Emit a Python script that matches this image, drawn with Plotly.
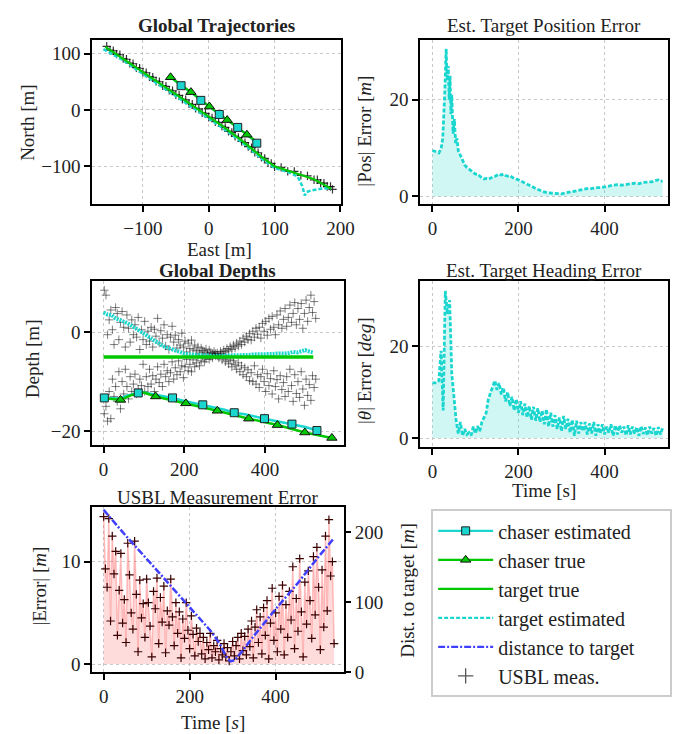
import plotly.graph_objects as go

# ---------------- data ----------------
# Global trajectories (East, North)
tgt_true_E = [-157, -130, -100, -70, -40, -10, 0, 20, 50, 80, 100, 130, 160, 186]
tgt_true_N = [112, 91, 68, 44, 20, -4, -12, -28, -54, -83, -100, -111, -123, -140]
tgt_est_E = [-160, -130, -100, -70, -40, -10, 0, 20, 50, 80, 100, 120, 135, 142, 146, 148, 155, 165, 175, 186]
tgt_est_N = [108, 88, 64, 40, 16, -8, -15, -31, -57, -86, -103, -110, -118, -135, -152, -146, -143, -141, -139, -140]
usbl_E = [-155, -150, -145, -140, -135, -130, -125, -120, -115, -110, -105, -100, -95, -90, -85, -80, -75, -70,
          -65, -60, -55, -50, -45, -40, -35, -30, -25, -20, -15, -10, -5, 0, 5, 10, 15, 20, 25, 30, 35, 40, 45,
          50, 55, 60, 65, 70, 75, 80, 85, 90, 95, 100, 110, 120, 130, 140, 150, 160, 165, 170, 175, 180, 185, 188]
usbl_N = [113, 106, 105, 99, 98, 91, 90, 83, 82, 75, 74, 67, 66, 59, 58, 51, 50, 43, 42, 35, 34, 27, 26, 19,
          18, 11, 10, 3, 2, -5, -6, -13, -14, -21, -22, -29, -31, -38, -40, -47, -49, -56, -58, -65, -67, -75,
          -76, -84, -86, -94, -95, -101, -102, -109, -109, -116, -117, -124, -124, -130, -130, -136, -136, -141]
ch_est_E = [-58, -42, -27, -12, 1, 16, 28, 44, 58, 73]
ch_est_N = [58, 43, 31, 17, 6, -8, -18, -31, -44, -59]
ch_est_mk_E = [-42, -12, 16, 44, 73]
ch_est_mk_N = [43, 17, -8, -31, -59]
ch_true_E = [-58, -27, 1, 28, 58, 75]
ch_true_N = [58, 31.6, 6, -18, -44, -58]
ch_true_mk_E = [-58, -27, 1, 28, 58]
ch_true_mk_N = [58, 31.6, 6, -18, -44]

# Target position error
pos_t = [0, 5, 10, 15, 20, 24, 27, 29, 31, 32, 33, 35, 37, 39, 41, 43, 45, 48, 51, 54, 57, 60, 65, 70, 75, 80,
         85, 90, 95, 100, 105, 110, 115, 120, 125, 130, 135, 140, 145, 150, 155, 160, 165, 170, 175, 180, 185,
         190, 200, 210, 220, 230, 240, 250, 260, 270, 280, 290, 300, 310, 320, 330, 340, 350, 360, 370, 380,
         390, 400, 410, 420, 430, 440, 450, 460, 470, 480, 490, 500, 510, 520, 525, 530, 535]
pos_err = [9.5, 9.4, 9.2, 9.0, 9.8, 12, 17, 22, 28, 30.6, 27, 24, 27, 20, 25, 17, 21, 13, 16, 11, 12, 9.5, 8.5,
           7.5, 6.5, 6.0, 5.6, 5.2, 5.0, 4.6, 4.6, 4.1, 3.8, 3.6, 3.7, 3.5, 3.8, 4.0, 4.1, 4.4, 4.6, 4.4, 4.6,
           4.3, 4.2, 4.3, 3.9, 3.7, 3.4, 3.0, 2.6, 2.1, 1.6, 1.2, 0.9, 0.7, 0.6, 0.6, 0.5, 0.7, 0.9, 1.0, 1.3,
           1.5, 1.6, 1.6, 1.8, 1.8, 1.9, 2.1, 2.3, 2.4, 2.3, 2.5, 2.6, 2.7, 2.6, 2.9, 3.0, 3.0, 3.3, 3.4, 3.1, 3.2]

# Target heading error (5 s steps)
hdg_t = [0, 5, 10, 15, 20, 25, 30, 35, 40, 45, 50, 55, 60, 65, 70, 75, 80, 85, 90, 95, 100, 105, 110, 115, 120,
         125, 130, 135, 140, 145, 150, 155, 160, 165, 170, 175, 180, 185, 190, 195, 200, 205, 210, 215, 220, 225,
         230, 235, 240, 245, 250, 255, 260, 265, 270, 275, 280, 285, 290, 295, 300, 305, 310, 315, 320, 325, 330,
         335, 340, 345, 350, 355, 360, 365, 370, 375, 380, 385, 390, 395, 400, 405, 410, 415, 420, 425, 430, 435,
         440, 445, 450, 455, 460, 465, 470, 475, 480, 485, 490, 495, 500, 505, 510, 515, 520, 525, 530, 535]
hdg_err = [12.0, 12.0, 12.0, 12.5, 19, 6, 32, 27, 30, 14, 9, 4, 1, 3.5, 0.5, 2, 0.8, 1.2, 0.6, 2.5, 1.0, 2.6, 1.5,
           3.5, 4.5, 5.5, 8.5, 10, 11, 12.5, 10.5, 12, 9.5, 11, 8, 10, 7, 9, 6, 8.5, 5.5, 8, 5, 7.5, 4.5, 7, 4,
           6.8, 3.8, 6.5, 3.5, 6, 3, 6.3, 2.5, 5.5, 2.5, 5, 2, 4.5, 1.5, 4.8, 2, 4.2, 1.2, 4, 0.5, 3.8, 1, 3.5,
           1.5, 3.5, 0.8, 3.2, 1, 3.5, 0.5, 3, 1, 3, 0.8, 2.5, 1.2, 3, 0.5, 2.8, 0.8, 2.8, 1.2, 2.5, 0.6, 2.8,
           0.8, 2.5, 1, 2.4, 0.5, 2.6, 0.9, 2.3, 0.6, 2.5, 1, 2.2, 0.5, 2.4, 0.8, 2.2]

# Global depths
tgt_est_dt = [0, 10, 20, 30, 40, 50, 60, 70, 80, 90, 100, 110, 120, 130, 140, 150, 160, 170, 180, 190, 200, 210,
              220, 230, 240, 250, 260, 270, 280, 290, 300, 310, 320, 330, 340, 350, 360, 370, 380, 390, 400, 410,
              420, 430, 440, 450, 460, 470, 480, 490, 500, 510, 520]
tgt_est_d = [4.0, 3.6, 3.5, 2.8, 2.5, 2.2, 1.8, 1.3, 0.8, 0.4, -0.2, -0.8, -1.4, -2.0, -2.4, -2.9, -3.2, -3.6,
             -3.9, -4.1, -4.3, -4.5, -4.5, -4.6, -4.7, -4.7, -4.7, -4.8, -4.8, -4.7, -4.8, -4.7, -4.8, -4.6, -4.7,
             -4.6, -4.6, -4.5, -4.5, -4.6, -4.4, -4.5, -4.4, -4.3, -4.4, -4.3, -4.2, -4.0, -4.1, -3.8, -3.6, -3.9, -4.1]
tgt_true_dt = [0, 520]
tgt_true_d = [-5.0, -5.0]
ch_est_dt = [0, 40, 60, 86, 100, 150, 171, 200, 246, 300, 324, 350, 399, 450, 467, 500, 529]
ch_est_d = [-13.3, -13.4, -12.8, -12.3, -12.2, -12.9, -13.3, -13.9, -14.7, -15.7, -16.3, -16.6, -17.5, -18.3,
            -18.6, -19.2, -19.9]
ch_est_mk_t = [2, 86, 171, 246, 324, 399, 467, 529]
ch_est_mk_d = [-13.3, -12.3, -13.3, -14.7, -16.3, -17.5, -18.6, -19.9]
ch_true_dt = [0, 42, 70, 100, 129, 204, 282, 360, 431, 499, 566]
ch_true_d = [-13.3, -13.7, -12.7, -12.2, -13.0, -14.4, -15.9, -17.5, -18.8, -20.3, -21.4]
ch_true_mk_t = [42, 129, 204, 282, 360, 431, 499, 566]
ch_true_mk_d = [-13.7, -13.0, -14.4, -15.9, -17.5, -18.8, -20.3, -21.4]

usbl_dt = [2, 6, 10, 14, 18, 22, 26, 30, 34, 38, 42, 46, 50, 54, 58, 62, 66, 70, 74, 78, 82, 86, 90, 94, 98, 102,
           106, 110, 114, 118, 122, 126, 130, 134, 138, 142, 146, 150, 154, 158, 162, 166, 170, 174, 178, 182, 186,
           190, 194, 198, 202, 206, 210, 214, 218, 222, 226, 230, 234, 238, 242, 246, 250, 254, 258, 262, 266, 270,
           274, 278,
           2, 6, 10, 14, 18, 22, 26, 30, 34, 38, 42, 46, 50, 54, 58, 62, 66, 70, 74, 78, 82, 86, 90, 94, 98, 102,
           106, 110, 114, 118, 122, 126, 130, 134, 138, 142, 146, 150, 154, 158, 162, 166, 170, 174, 178, 182, 186,
           190, 194, 198, 202, 206, 210, 214, 218, 222, 226, 230, 234, 238, 242, 246, 250, 254, 258, 262, 266, 270,
           274, 278,
           282, 286, 290, 294, 298, 302, 306, 310, 314, 318, 322, 326, 330, 334, 338, 342, 346, 350, 354, 358, 362,
           366, 370, 374, 378, 382, 386, 390, 394, 398, 402, 406, 410, 414, 418, 422, 426, 430, 434, 438, 442, 446,
           450, 454, 458, 462, 466, 470, 474, 478, 482, 486, 490, 494, 498, 502, 506, 510, 514, 518, 522, 526,
           282, 286, 290, 294, 298, 302, 306, 310, 314, 318, 322, 326, 330, 334, 338, 342, 346, 350, 354, 358, 362,
           366, 370, 374, 378, 382, 386, 390, 394, 398, 402, 406, 410, 414, 418, 422, 426, 430, 434, 438, 442, 446,
           450, 454, 458, 462, 466, 470, 474, 478, 482, 486, 490, 494, 498, 502, 506, 510, 514, 518, 522, 526]
usbl_d = [8.5, 7.5, -0.5, 2.5, 4.5, 0.5, -2.5, 5.0, 3.8, -1.5, 2.0, 4.2, 1.0, -3.0, 3.5, 0.8, -2.0, 2.5, -0.5, 1.5,
          -1.0, 3.0, -3.5, 0.5, -1.5, 2.2, -2.5, 0.2, -1.8, 1.0, -3.0, 0.6, -0.8, 2.8, -2.2, 0.3, -1.2, 1.5, -2.8,
          -0.5, -3.5, -1.0, 1.2, -2.0, -0.6, -3.2, -1.5, -2.6, -0.2, -3.0, -1.8, -4.0, -2.2, -3.3, -1.6, -3.6, -2.6,
          -3.8, -3.0, -4.2, -3.2, -3.7, -4.0, -3.4, -4.3, -3.6, -4.1, -4.4, -3.9, -4.3,
          -16.5, -15.0, -18.0, -12.0, -17.5, -9.5, -13.0, -11.0, -14.0, -8.0, -15.5, -10.0, -12.5, -7.5, -11.0,
          -13.5, -9.0, -12.0, -10.5, -8.5, -12.5, -11.5, -9.5, -10.8, -6.5, -12.0, -9.0, -11.0, -7.5, -10.5, -8.8,
          -12.0, -9.5, -7.0, -10.2, -8.5, -11.0, -6.5, -9.0, -7.8, -10.0, -8.2, -6.0, -9.5, -7.2, -8.6, -5.8, -8.0,
          -6.8, -9.2, -7.0, -5.5, -7.8, -6.5, -8.0, -5.6, -7.0, -6.2, -5.0, -6.8, -5.8, -4.8, -6.0, -5.4, -4.6,
          -5.5, -4.9, -5.2, -4.5, -4.8,
          -4.2, -4.6, -3.9, -4.3, -3.6, -4.0, -3.3, -3.8, -2.9, -3.5, -2.6, -3.2, -2.2, -2.8, -1.8, -2.5, -1.2,
          -2.0, -0.8, -1.5, -0.3, -1.6, 0.2, -1.0, 0.8, -0.4, 1.0, -1.2, 1.8, 0.2, 2.2, -0.6, 2.8, 0.6, 3.2, 1.0,
          -0.5, 3.5, 1.5, 4.3, 0.8, 2.6, 4.8, 1.2, 3.0, 5.5, 2.0, 3.8, 6.0, 1.5, 4.8, 2.6, 5.8, 0.8, 3.8, 6.5, 2.2,
          5.0, 7.5, 4.0, 6.2, 2.8,
          -4.8, -5.2, -4.6, -5.6, -5.0, -6.0, -5.2, -6.4, -5.6, -7.0, -5.8, -6.6, -7.5, -6.2, -8.0, -6.8, -8.6,
          -7.2, -9.0, -7.6, -9.8, -8.2, -10.0, -6.8, -10.5, -8.6, -11.2, -9.0, -7.5, -10.0, -12.0, -8.4, -10.8,
          -9.4, -12.5, -7.8, -11.0, -9.6, -13.5, -8.8, -11.6, -10.2, -13.0, -9.0, -12.0, -7.5, -10.8, -14.0, -8.6,
          -12.4, -10.0, -13.2, -8.0, -11.5, -14.8, -9.5, -12.8, -10.6, -13.8, -8.8, -11.2, -9.5]

# USBL measurement error (4 s steps)
err_t = [0, 4, 8, 12, 16, 20, 24, 28, 32, 36, 40, 44, 48, 52, 56, 60, 64, 68, 72, 76, 80, 84, 88, 92, 96, 100,
         104, 108, 112, 116, 120, 124, 128, 132, 136, 140, 144, 148, 152, 156, 160, 164, 168, 172, 176, 180, 184,
         188, 192, 196, 200, 204, 208, 212, 216, 220, 224, 228, 232, 236, 240, 244, 248, 252, 256, 260, 264, 268,
         272, 276, 280, 284, 288, 292, 296, 300, 304, 308, 312, 316, 320, 324, 328, 332, 336, 340, 344, 348, 352,
         356, 360, 364, 368, 372, 376, 380, 384, 388, 392, 396, 400, 404, 408, 412, 416, 420, 424, 428, 432, 436,
         440, 444, 448, 452, 456, 460, 464, 468, 472, 476, 480, 484, 488, 492, 496, 500, 504, 508, 512, 516, 520,
         524, 528, 532, 536]
err_v = [14.4, 9.3, 7.5, 14.2, 4.2, 12.5, 8.8, 11.0, 2.8, 7.2, 10.8, 4.0, 6.3, 2.1, 11.8, 8.7, 5.0, 3.4, 12.0,
         6.8, 1.2, 8.2, 4.5, 5.9, 2.6, 8.3, 6.0, 3.7, 0.7, 7.1, 5.4, 8.4, 2.0, 6.5, 4.1, 7.6, 1.1, 5.2, 3.8, 8.3,
         4.6, 1.8, 6.0, 3.0, 5.1, 0.6, 4.4, 2.5, 6.0, 3.3, 1.5, 4.7, 2.9, 0.8, 3.5, 2.2, 3.0, 1.0, 2.6, 0.5, 2.1,
         1.4, 3.0, 0.6, 1.8, 1.2, 2.3, 0.4, 1.5, 0.9, 2.0, 0.7, 1.6, 0.3, 1.2, 2.2, 0.8, 1.8, 2.6, 0.5, 3.0, 1.3,
         2.7, 0.9, 3.4, 1.7, 4.2, 0.6, 3.6, 5.3, 2.1, 4.6, 1.0, 5.5, 2.8, 6.2, 0.5, 4.0, 7.4, 2.3, 5.0, 1.2, 6.6,
         3.4, 7.7, 0.9, 5.8, 2.6, 7.1, 4.3, 9.5, 1.5, 6.4, 3.2, 10.3, 5.1, 0.7, 8.0, 3.9, 9.1, 6.2, 2.5, 10.5,
         4.8, 11.4, 7.5, 1.4, 9.2, 3.6, 12.5, 5.2, 14.1, 8.6, 10.0, 2.0]
dist_t = [0, 50, 100, 150, 200, 250, 270, 285, 295, 305, 320, 350, 400, 450, 500, 535]
dist_v = [232, 196, 162, 127, 93, 58, 40, 22, 15, 17, 28, 52, 90, 126, 165, 191]

# legend labels
legend_names = ["chaser estimated", "chaser true", "target true", "target estimated",
                "distance to target", "USBL meas."]

# ---------------- styling ----------------
CYAN = "#1ad6cf"
GREEN = "#00c800"
BLUE = "#3f3fff"
FONT = "Liberation Serif"
FS = 19
W, H = 683, 734


def px_x(p):
    return p / W


def px_y(p):
    return 1 - p / H


fig = go.Figure()

# --- top-left: trajectories
fig.add_trace(go.Scatter(x=usbl_E, y=usbl_N, mode="markers", xaxis="x", yaxis="y", showlegend=False,
                         marker=dict(symbol="cross-thin", size=6, line=dict(color="rgba(0,0,0,0.8)", width=1.2))))
fig.add_trace(go.Scatter(x=tgt_est_E, y=tgt_est_N, mode="lines", xaxis="x", yaxis="y", showlegend=False,
                         line=dict(color=CYAN, width=2.5, dash="4px,2px")))
fig.add_trace(go.Scatter(x=tgt_true_E, y=tgt_true_N, mode="lines", xaxis="x", yaxis="y", showlegend=False,
                         line=dict(color=GREEN, width=2.2)))
fig.add_trace(go.Scatter(x=ch_est_E, y=ch_est_N, mode="lines", xaxis="x", yaxis="y", showlegend=False,
                         line=dict(color=CYAN, width=2.2)))
fig.add_trace(go.Scatter(x=ch_true_E, y=ch_true_N, mode="lines", xaxis="x", yaxis="y", showlegend=False,
                         line=dict(color=GREEN, width=2.2)))
fig.add_trace(go.Scatter(x=ch_est_mk_E, y=ch_est_mk_N, mode="markers", xaxis="x", yaxis="y", showlegend=False,
                         marker=dict(symbol="square", size=8, color=CYAN, line=dict(color="#222", width=1))))
fig.add_trace(go.Scatter(x=ch_true_mk_E, y=ch_true_mk_N, mode="markers", xaxis="x", yaxis="y", showlegend=False,
                         marker=dict(symbol="triangle-up", size=9, color=GREEN, line=dict(color="#111", width=1))))

# --- top-right: position error
fig.add_trace(go.Scatter(x=pos_t, y=pos_err, mode="lines", xaxis="x2", yaxis="y2", showlegend=False,
                         fill="tozeroy", fillcolor="rgba(26,214,207,0.2)",
                         line=dict(color=CYAN, width=2.8, dash="4px,2px")))

# --- mid-left: depths
fig.add_trace(go.Scatter(x=usbl_dt, y=usbl_d, mode="markers", xaxis="x3", yaxis="y3", showlegend=False,
                         marker=dict(symbol="cross-thin", size=6, line=dict(color="rgba(0,0,0,0.5)", width=1))))
fig.add_trace(go.Scatter(x=tgt_est_dt, y=tgt_est_d, mode="lines", xaxis="x3", yaxis="y3", showlegend=False,
                         line=dict(color=CYAN, width=4, dash="2px,1px")))
fig.add_trace(go.Scatter(x=tgt_true_dt, y=tgt_true_d, mode="lines", xaxis="x3", yaxis="y3", showlegend=False,
                         line=dict(color=GREEN, width=3.5)))
fig.add_trace(go.Scatter(x=ch_est_dt, y=ch_est_d, mode="lines", xaxis="x3", yaxis="y3", showlegend=False,
                         line=dict(color=CYAN, width=2.5)))
fig.add_trace(go.Scatter(x=ch_true_dt, y=ch_true_d, mode="lines", xaxis="x3", yaxis="y3", showlegend=False,
                         line=dict(color=GREEN, width=2.5)))
fig.add_trace(go.Scatter(x=ch_est_mk_t, y=ch_est_mk_d, mode="markers", xaxis="x3", yaxis="y3", showlegend=False,
                         marker=dict(symbol="square", size=8, color=CYAN, line=dict(color="#222", width=1))))
fig.add_trace(go.Scatter(x=ch_true_mk_t, y=ch_true_mk_d, mode="markers", xaxis="x3", yaxis="y3", showlegend=False,
                         marker=dict(symbol="triangle-up", size=9, color=GREEN, line=dict(color="#111", width=1))))

# --- mid-right: heading error
fig.add_trace(go.Scatter(x=hdg_t, y=hdg_err, mode="lines", xaxis="x4", yaxis="y4", showlegend=False,
                         fill="tozeroy", fillcolor="rgba(26,214,207,0.2)",
                         line=dict(color=CYAN, width=2.8, dash="4px,2px")))

# --- bottom-left: USBL error
fig.add_trace(go.Scatter(x=err_t, y=err_v, mode="lines", xaxis="x5", yaxis="y5", showlegend=False,
                         fill="tozeroy", fillcolor="rgba(255,60,60,0.18)",
                         line=dict(color="rgba(255,90,90,0.35)", width=1.5)))
fig.add_trace(go.Scatter(x=err_t, y=err_v, mode="markers", xaxis="x5", yaxis="y5", showlegend=False,
                         marker=dict(symbol="cross-thin", size=6, line=dict(color="#3a0000", width=1.2))))
fig.add_trace(go.Scatter(x=dist_t, y=dist_v, mode="lines", xaxis="x5", yaxis="y6", showlegend=False,
                         line=dict(color=BLUE, width=2.5, dash="7px,2px,2px,2px")))

# --- legend entries
leg_styles = [
    ("lines+markers", dict(color=CYAN, width=2.2), dict(symbol="square", size=8, color=CYAN, line=dict(color="#222", width=1))),
    ("lines+markers", dict(color=GREEN, width=2.2), dict(symbol="triangle-up", size=9, color=GREEN, line=dict(color="#111", width=1))),
    ("lines", dict(color=GREEN, width=2.2), None),
    ("lines", dict(color=CYAN, width=2.2, dash="4px,2px"), None),
    ("lines", dict(color=BLUE, width=2.2, dash="7px,2px,2px,2px"), None),
    ("markers", None, dict(symbol="cross-thin", size=11, line=dict(color="#555", width=1.3))),
]
for name, (mode, ln, mk) in zip(legend_names, leg_styles):
    label = name + ("&nbsp;" * 6 if name == "distance to target" else "")
    kw = dict(x=[None], y=[None], mode=mode, name=label, xaxis="x", yaxis="y", showlegend=True)
    if ln:
        kw["line"] = ln
    if mk:
        kw["marker"] = mk
    fig.add_trace(go.Scatter(**kw))

# ---------------- axes ----------------
axbase = dict(showline=True, mirror=True, linecolor="black", linewidth=2, ticks="outside", ticklen=6,
              tickwidth=1.5, tickcolor="black", showgrid=True, gridcolor="#c8c8c8", griddash="dot",
              gridwidth=1, zeroline=False, tickfont=dict(family=FONT, size=FS, color="#222"))

fig.update_layout(
    width=W, height=H, autosize=False, margin=dict(l=0, r=0, t=0, b=0),
    paper_bgcolor="white", plot_bgcolor="white",
    font=dict(family=FONT, size=FS, color="#222"),
    xaxis=dict(axbase, domain=[px_x(86), px_x(340)], range=[-177, 201], tickvals=[-100, 0, 100, 200], anchor="y"),
    yaxis=dict(axbase, domain=[px_y(199), px_y(32)], range=[-167, 125], tickvals=[-100, 0, 100], anchor="x"),
    xaxis2=dict(axbase, domain=[px_x(421), px_x(674)], range=[-28, 548], tickvals=[0, 200, 400], anchor="y2"),
    yaxis2=dict(axbase, domain=[px_y(199), px_y(32)], range=[-1.6, 32.5], tickvals=[0, 20], anchor="x2"),
    xaxis3=dict(axbase, domain=[px_x(86), px_x(343)], range=[-28, 596], tickvals=[0, 200, 400], anchor="y3"),
    yaxis3=dict(axbase, domain=[px_y(444), px_y(277)], range=[-22.9, 10.4], tickvals=[-20, 0], anchor="x3"),
    xaxis4=dict(axbase, domain=[px_x(421), px_x(674)], range=[-28, 548], tickvals=[0, 200, 400], anchor="y4"),
    yaxis4=dict(axbase, domain=[px_y(446), px_y(277)], range=[-2, 34.2], tickvals=[0, 20], anchor="x4"),
    xaxis5=dict(axbase, domain=[px_x(86), px_x(343)], range=[-26.6, 559], tickvals=[0, 200, 400], anchor="y5"),
    yaxis5=dict(axbase, domain=[px_y(674), px_y(507)], range=[-0.77, 15.3], tickvals=[0, 10], anchor="x5"),
    yaxis6=dict(axbase, overlaying="y5", side="right", range=[0, 235.6], tickvals=[0, 100, 200],
                showgrid=False, anchor="x5", mirror=False, showline=False),
    legend=dict(x=px_x(432), y=px_y(509), xanchor="left", yanchor="top", bgcolor="white",
                bordercolor="#cccccc", borderwidth=2, font=dict(family=FONT, size=FS + 1, color="#222"),
                tracegroupgap=0, itemwidth=55),
)

# ---------------- text annotations ----------------
def ann(text, x, y, angle=0, bold=False):
    fig.add_annotation(text=("<b>%s</b>" % text) if bold else text, x=px_x(x), y=px_y(y), xref="paper",
                       yref="paper", showarrow=False, textangle=angle, xanchor="center", yanchor="middle",
                       font=dict(family=FONT, size=FS, color="#222"))


ann("Global Trajectories", 213, 18, bold=True)
ann("Est. Target Position Error", 547, 18)
ann("Global Depths", 214, 266, bold=True)
ann("Est. Target Heading Error", 547, 267)
ann("USBL Measurement Error", 214, 497)
ann("North [m]", 20, 116, angle=-90)
ann("East [m]", 216, 245)
ann("|Pos| Error [<i>m</i>]", 364, 125, angle=-90)
ann("Depth [m]", 25, 356, angle=-90)
ann("|<i>θ</i>| Error [<i>deg</i>]", 364, 368, angle=-90)
ann("Time [s]", 547, 490)
ann("|Error| [<i>m</i>]", 32, 587, angle=-90)
ann("Dist. to target [<i>m</i>]", 407, 591, angle=-90)
ann("Time [<i>s</i>]", 209, 725)

fig.write_html("out.html")
